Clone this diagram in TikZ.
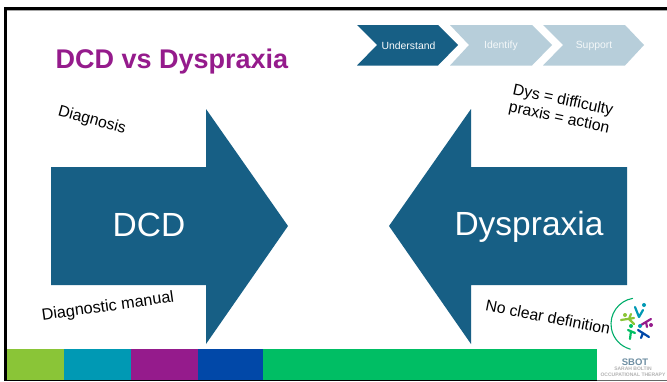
\documentclass[tikz,border=0pt]{standalone}
\usepackage{fontspec}
\setmainfont{Liberation Sans}
\definecolor{arrowblue}{HTML}{175F85}
\definecolor{paleblue}{HTML}{B7CEDA}
\definecolor{titlepurple}{HTML}{951B8C}
\definecolor{barlime}{HTML}{8AC537}
\definecolor{barteal}{HTML}{0099B4}
\definecolor{barblue}{HTML}{0148A8}
\definecolor{bargreen}{HTML}{00BE64}
\definecolor{logoblue}{HTML}{6F8FA3}
\tikzset{
 bigarrow/.style={fill=arrowblue,draw=none},
 chev/.style={draw=none},
 note/.style={font=\fontsize{15.8}{18}\selectfont,text=black,align=center,inner sep=0pt},
 chevtext/.style={font=\fontsize{10.4}{12}\selectfont,inner sep=0pt},
 bigtext/.style={font=\fontsize{33.5}{38}\selectfont,text=white,inner sep=0pt},
 barcell/.style={draw=none},
 limb/.style={line width=2.2pt,line cap=round},
}
\begin{document}
\begin{tikzpicture}[x=1pt,y=-1pt]
\useasboundingbox (0,0) rectangle (667,381);
\fill[white] (0,0) rectangle (667,381);
% frame
\fill[black] (4,7) rectangle (667,9.5);
\fill[gray!70] (6,9.5) rectangle (667,10.3);
\fill[black] (4,7) rectangle (6.5,381);
\fill[black] (4,379.8) rectangle (597,381);
% bar
\fill[barlime,barcell] (6.5,349) rectangle (64,380);
\fill[barteal,barcell] (64,349) rectangle (131,380);
\fill[titlepurple,barcell] (131,349) rectangle (198,380);
\fill[barblue,barcell] (198,349) rectangle (263,380);
\fill[bargreen,barcell] (263,349) rectangle (597,380);
% title
\node[anchor=west,inner sep=0pt,text=titlepurple,font=\fontsize{27}{30}\bfseries] (title) at (55.5,62) {DCD vs Dyspraxia};
% chevrons
\fill[paleblue,chev] (543,25) -- (625,25) -- (644,45) -- (625,65.5) -- (543,65.5) -- (563,45) -- cycle;
\fill[paleblue,chev] (450,25) -- (532,25) -- (552,45) -- (532,65.5) -- (450,65.5) -- (469,45) -- cycle;
\fill[arrowblue,chev] (357,25) -- (438,25) -- (458,45) -- (438,65.5) -- (357,65.5) -- (377,45) -- cycle;
\node[chevtext,text=white!92!paleblue] (c1) at (408.5,45.5) {Understand};
\node[chevtext,text=white!85!paleblue] (c2) at (501,45.5) {Identify};
\node[chevtext,text=white!85!paleblue] (c3) at (594,45.5) {Support};
% big arrows
\fill[bigarrow] (51,167) -- (206,167) -- (206,109) -- (288,226) -- (206,344) -- (206,285) -- (51,285) -- cycle;
\fill[bigarrow] (627,167) -- (471,167) -- (471,109) -- (389,226) -- (471,344) -- (471,285) -- (627,285) -- cycle;
\node[bigtext] (dcd) at (149,224.5) {DCD};
\node[bigtext] (dys) at (529,226.5) {Dyspraxia};
% notes
\node[note,rotate=-15.5] (n1) at (92,120.5) {Diagnosis};
\node[note,rotate=-12] (n2) at (561,109.5) {Dys = difficulty\\praxis = action};
\node[note,rotate=8,font=\fontsize{16.2}{18}\selectfont] (n3) at (108,307) {Diagnostic manual};
\node[note,rotate=-11] (n4) at (548,317) {No clear definition};
% logo
\draw[bargreen!75!teal,line width=1.1pt,line cap=round] (632.5,298.4) arc[start angle=-100,end angle=-255,radius=26];
\draw[barteal,limb] (639,317) -- (635,307) (639,317) -- (643,310);
\fill[barteal] (644,305) circle (2);
\draw[titlepurple,limb] (641,325) -- (651,319) (646,322) -- (647,327);
\fill[titlepurple] (651,325) circle (2);
\draw[barblue,limb] (638,330) -- (649,337) (643,333) -- (641,338);
\fill[barteal] (640,326) circle (2);
\draw[bargreen,limb] (631,331) -- (630,339) (628,330) -- (635,333);
\fill[bargreen] (631,326) circle (2);
\draw[barlime,limb] (621,320) -- (634,318) (629,319) -- (631,314) (629,319) -- (634,324);
\fill[barlime] (625,315) circle (2);
\node[inner sep=0pt,text=logoblue,font=\fontsize{9.5}{10}\bfseries] (sbot) at (635,362) {SBOT};
\node[inner sep=0pt,text=black!30,align=center,font=\fontsize{5}{6.5}\bfseries] (sub) at (633,372) {SARAH BOLTIN\\OCCUPATIONAL THERAPY};
\fill[black!60] (597,379.8) rectangle (667,380.6);
\end{tikzpicture}
\end{document}
